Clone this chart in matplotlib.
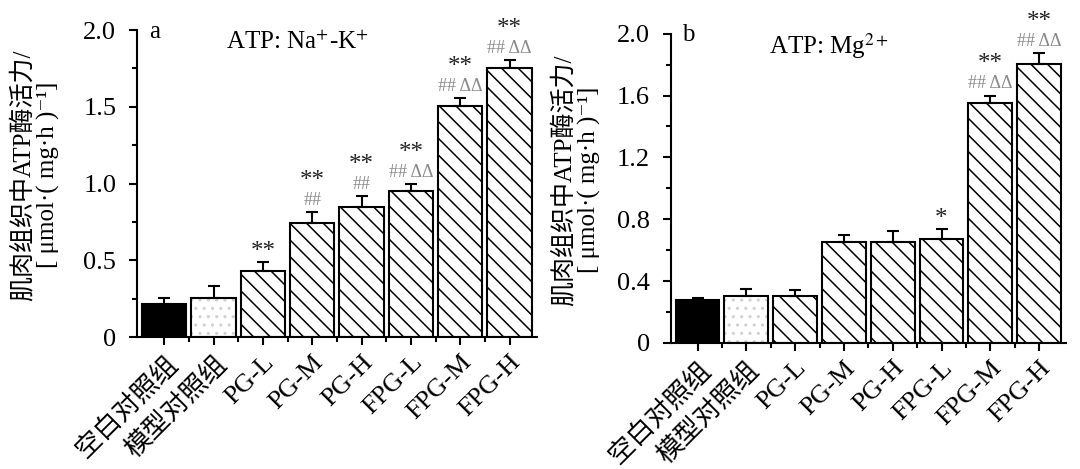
import numpy as np
import matplotlib
matplotlib.use("Agg")
import matplotlib.pyplot as plt

plt.rcParams["font.family"] = ["Liberation Serif", "Noto Sans CJK SC", "DejaVu Serif"]
plt.rcParams["mathtext.fontset"] = "stix"
plt.rcParams["hatch.linewidth"] = 1.1

# data
groups = ["空白对照组", "模型对照组", "PG-L", "PG-M", "PG-H", "FPG-L", "FPG-M", "FPG-H"]
nak_mean = [0.214, 0.255, 0.433, 0.745, 0.845, 0.95, 1.505, 1.755]
nak_err = [0.04, 0.08, 0.055, 0.07, 0.075, 0.05, 0.055, 0.05]
nak_star = ["", "", "**", "**", "**", "**", "**", "**"]
nak_hash = ["", "", "", "##", "##", "## ΔΔ", "## ΔΔ", "## ΔΔ"]

mg_mean = [0.276, 0.30, 0.30, 0.65, 0.655, 0.67, 1.55, 1.805]
mg_err = [0.015, 0.05, 0.045, 0.05, 0.07, 0.065, 0.05, 0.07]
mg_star = ["", "", "", "", "", "*", "**", "**"]
mg_hash = ["", "", "", "", "", "", "## ΔΔ", "## ΔΔ"]

ylabel = "肌肉组织中ATP酶活力/\n[ μmol·( mg·h )⁻¹]"

fig = plt.figure(figsize=(10.8, 4.69), dpi=100)
axa = fig.add_axes([0.127, 0.281, 0.370, 0.655])
axb = fig.add_axes([0.621, 0.269, 0.366, 0.659])


def draw(ax, mean, err, star, hsh, yticks, minor, title, letter):
    x = np.arange(len(mean))
    w = 0.9
    for i in range(len(mean)):
        if i == 0:
            ax.bar(x[i], mean[i], w, color="black", edgecolor="black", lw=1.5, zorder=2)
        elif i == 1:
            ax.bar(x[i], mean[i], w, color="white", edgecolor="#d2d2d2", hatch="..", lw=0, zorder=2)
            ax.bar(x[i], mean[i], w, fill=False, edgecolor="black", lw=1.5, zorder=3)
        else:
            ax.bar(x[i], mean[i], w, color="white", edgecolor="black", hatch="\\\\", lw=1.5, zorder=2)
    ax.errorbar(x, mean, yerr=[np.zeros(len(err)), err], fmt="none", ecolor="black",
                elinewidth=1.5, capsize=4, capthick=1.5, zorder=4)
    top = np.array(mean) + np.array(err)
    for i in range(len(mean)):
        if hsh[i]:
            ax.text(x[i], top[i] + 0.02, hsh[i], ha="center", va="bottom",
                    fontsize=13, color="#8a8a8a", clip_on=False)
            ax.text(x[i], top[i] + 0.13, star[i], ha="center", va="bottom",
                    fontsize=18, color="#222222", clip_on=False)
        elif star[i]:
            ax.text(x[i], top[i] - 0.005, star[i], ha="center", va="bottom",
                    fontsize=18, color="#222222", clip_on=False)
    ax.set_xlim(-0.55, 7.55)
    ax.set_ylim(0, 2.0)
    ax.set_yticks(yticks)
    ax.set_yticklabels(["0"] + ["%.1f" % v for v in yticks[1:]])
    ax.set_yticks(minor, minor=True)
    ax.set_xticks(x)
    ax.set_xticks(x[:-1] + 0.5, minor=True)
    ax.set_xticklabels(groups, rotation=45, ha="right", rotation_mode="anchor", fontsize=19)
    for s in ["top", "right"]:
        ax.spines[s].set_visible(False)
    for s in ["left", "bottom"]:
        ax.spines[s].set_linewidth(1.5)
    ax.tick_params(axis="both", which="major", direction="out", length=6, width=1.5,
                   labelsize=19, pad=4)
    ax.tick_params(axis="both", which="minor", direction="out", length=3.5, width=1.5)
    ax.tick_params(axis="y", which="major", pad=9)
    ax.text(0.40, 0.96, title, transform=ax.transAxes, ha="center", va="center", fontsize=18)
    ax.text(0.03, 0.995, letter, transform=ax.transAxes, ha="left", va="center", fontsize=18)


draw(axa, nak_mean, nak_err, nak_star, nak_hash,
     [0, 0.5, 1.0, 1.5, 2.0], [0.25, 0.75, 1.25, 1.75],
     "ATP: Na$^{+}$-K$^{+}$", "a")
draw(axb, mg_mean, mg_err, mg_star, mg_hash,
     [0, 0.4, 0.8, 1.2, 1.6, 2.0], [0.2, 0.6, 1.0, 1.4, 1.8],
     "ATP: Mg$^{2+}$", "b")

fig.text(35 / 1080, 0.627, ylabel, rotation=90, ha="center", va="center",
         fontsize=18, linespacing=1.15)
fig.text(576 / 1080, 0.616, ylabel, rotation=90, ha="center", va="center",
         fontsize=18, linespacing=1.15)

fig.savefig("out.png", dpi=100)
